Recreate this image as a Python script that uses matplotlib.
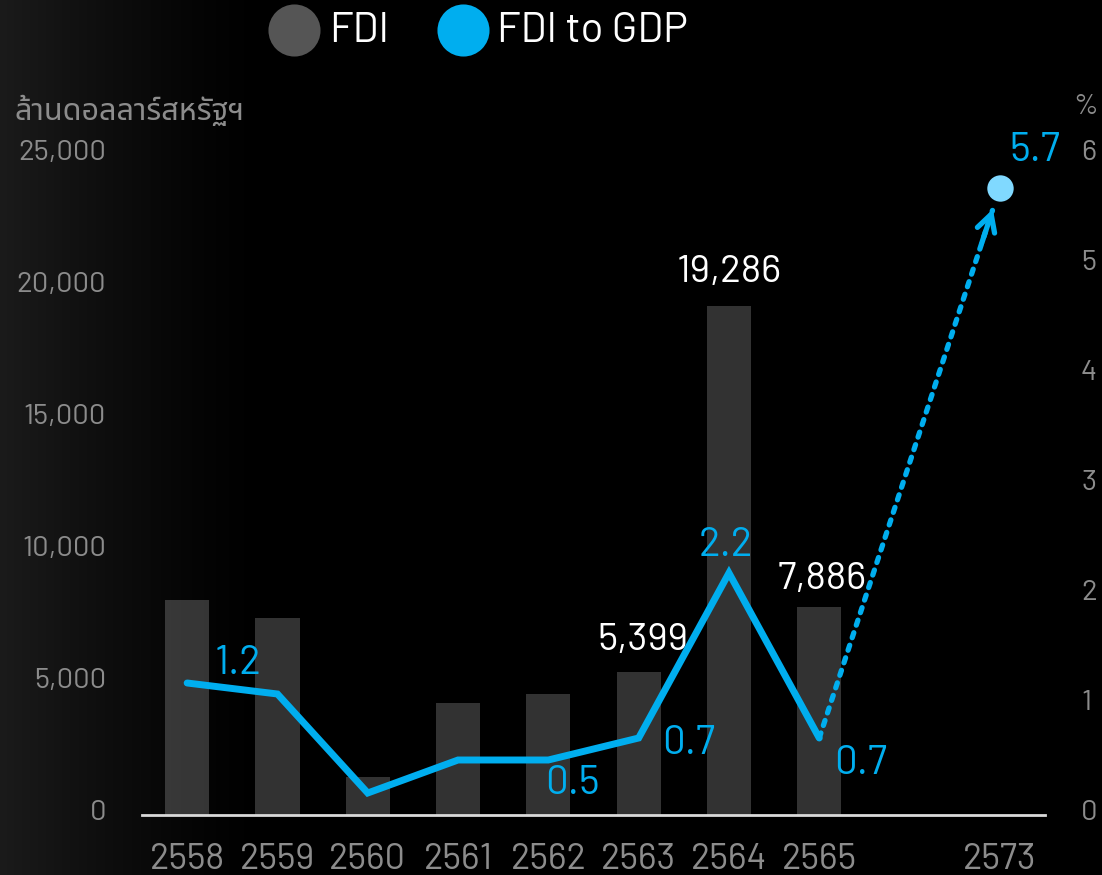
import numpy as np
import matplotlib
matplotlib.use("Agg")
import matplotlib.pyplot as plt
from matplotlib.transforms import ScaledTranslation

# ---- data -------------------------------------------------------------
years = ["2558", "2559", "2560", "2561", "2562", "2563", "2564", "2565"]
target_year = "2573"
fdi = [8160, 7480, 1430, 4260, 4570, 5399, 19286, 7886]        # million USD
fdi_to_gdp = [1.2, 1.1, 0.2, 0.5, 0.5, 0.7, 2.2, 0.7]           # percent of GDP
target_ratio = 5.7                                              # percent, 2573
left_ticks = [0, 5000, 10000, 15000, 20000, 25000]
right_ticks = [0, 1, 2, 3, 4, 5, 6]
fdi_labelled = [5, 6, 7]                 # bars carrying a value label
ratio_labelled = [0, 4, 5, 6, 7]         # line points carrying a value label

# ---- style ------------------------------------------------------------
FONT = ["Barlow", "Noto Sans Thai", "DejaVu Sans"]
BLUE = "#00aeef"
LIGHT_BLUE = "#80d9ff"
TICK_GREY = "#8c8c8c"
plt.rcParams["font.family"] = FONT

W, H = 1102, 875
fig = plt.figure(figsize=(W / 100, H / 100), dpi=100)
fig.patch.set_facecolor("black")

# dark background with a soft grey glow on the left edge
bg = fig.add_axes([0, 0, 1, 1], zorder=-10)
xs = np.linspace(0, 1, 600)
shade = np.clip(1 - xs / 0.24, 0, 1) ** 1.3 * 0.105
img = np.repeat(shade[None, :], 2, axis=0)
bg.imshow(np.dstack([img, img, img]), aspect="auto", extent=[0, 1, 0, 1],
          interpolation="bilinear")
bg.set_axis_off()

ax = fig.add_axes([142 / W, 1 - 815 / H, (1045 - 142) / W, (815 - 155) / H])
ax.set_facecolor("none")
ax2 = ax.twinx()

pos = np.arange(len(years))
target_pos = len(years) + 1

# bars
ax.bar(pos, fdi, width=0.49, color="white", alpha=0.2, linewidth=0, zorder=2)
ax.set_ylim(0, 25000)
ax.set_xlim(-0.5, target_pos + 0.5)
ax.set_xticks(list(pos) + [target_pos])
ax.set_xticklabels(years + [target_year])
ax.set_yticks(left_ticks)
ax.set_yticklabels([f"{v:,}" for v in left_ticks])

for s in ["top", "left", "right"]:
    ax.spines[s].set_visible(False)
    ax2.spines[s].set_visible(False)
ax2.spines["bottom"].set_visible(False)
ax.spines["bottom"].set_color("#d9d9d9")
ax.spines["bottom"].set_linewidth(2)
ax.spines["bottom"].set_zorder(5)

ax.tick_params(axis="x", length=0, pad=20, labelsize=26, labelcolor=TICK_GREY)
ax.tick_params(axis="y", length=0, pad=26, labelsize=21, labelcolor=TICK_GREY)

# ratio line
ax2.plot(pos, fdi_to_gdp, color=BLUE, lw=5, solid_capstyle="round",
         solid_joinstyle="miter", zorder=4)
ax2.set_ylim(0, 6)
ax2.set_yticks(right_ticks)
ax2.tick_params(axis="y", length=0, pad=26, labelsize=21, labelcolor=TICK_GREY)
ax2.set_zorder(ax.get_zorder() + 1)

# y tick labels sit a few pixels above their values
lift = ScaledTranslation(0, 0.05, fig.dpi_scale_trans)
for t in ax.get_yticklabels() + ax2.get_yticklabels():
    t.set_transform(t.get_transform() + lift)

# dotted projection toward the 2573 target with a solid chevron head
start = (pos[-1], fdi_to_gdp[-1])
end = (target_pos, target_ratio)
ax2.annotate("", xy=end, xytext=start,
             arrowprops=dict(arrowstyle="-", color=BLUE, lw=3.8,
                             linestyle=(0, (1, 1.5)), shrinkA=0, shrinkB=17))
near = (start[0] + 0.9 * (end[0] - start[0]), start[1] + 0.9 * (end[1] - start[1]))
ax2.annotate("", xy=end, xytext=near,
             arrowprops=dict(arrowstyle="->,head_length=1.2,head_width=0.65",
                             color=BLUE, lw=3.8, shrinkA=0, shrinkB=16,
                             capstyle="round", joinstyle="round"))
ax2.plot([target_pos], [target_ratio], "o", ms=19, color=LIGHT_BLUE,
         mec="none", zorder=6)

# value labels on bars (points offset)
bar_offsets = {5: (3, 23), 6: (0, 24), 7: (2, 20)}
for i in fdi_labelled:
    dx, dy = bar_offsets[i]
    ax.annotate(f"{fdi[i]:,}", (pos[i], fdi[i]), xytext=(dx, dy),
                textcoords="offset points", ha="center", va="center",
                fontsize=28, color="white", zorder=7)

# value labels on the ratio line
ratio_offsets = {0: (37, 14), 4: (17, -17), 5: (36, -4), 6: (-2, 20), 7: (30, -18)}
for i in ratio_labelled:
    dx, dy = ratio_offsets[i]
    ax2.annotate(f"{fdi_to_gdp[i]:.1f}", (pos[i], fdi_to_gdp[i]), xytext=(dx, dy),
                 textcoords="offset points", ha="center", va="center",
                 fontsize=29, color=BLUE, zorder=7)
ax2.annotate(f"{target_ratio:.1f}", end, xytext=(25, 27),
             textcoords="offset points", ha="center", va="center",
             fontsize=29, color=BLUE, zorder=7)

# axis unit captions
fig.text(15 / W, 1 - 110 / H, "ล้านดอลลาร์สหรัฐฯ", ha="left", va="center",
         fontsize=22, color=TICK_GREY, fontweight="light")
fig.text(1098 / W, 1 - 107 / H, "%", ha="right", va="center",
         fontsize=21, color=TICK_GREY)

# legend
leg = fig.add_axes([0, 0, 1, 1], zorder=10)
leg.set_xlim(0, W)
leg.set_ylim(H, 0)
leg.set_axis_off()
leg.scatter([294], [30], s=52 ** 2 * 0.52, color="#555555", linewidths=0)
leg.scatter([463], [30], s=52 ** 2 * 0.52, color=BLUE, linewidths=0)
leg.text(329, 32, "FDI", ha="left", va="center", fontsize=30, color="white")
leg.text(497, 32, "FDI to GDP", ha="left", va="center", fontsize=30, color="white")

fig.savefig("out.png", dpi=100, facecolor="black")
